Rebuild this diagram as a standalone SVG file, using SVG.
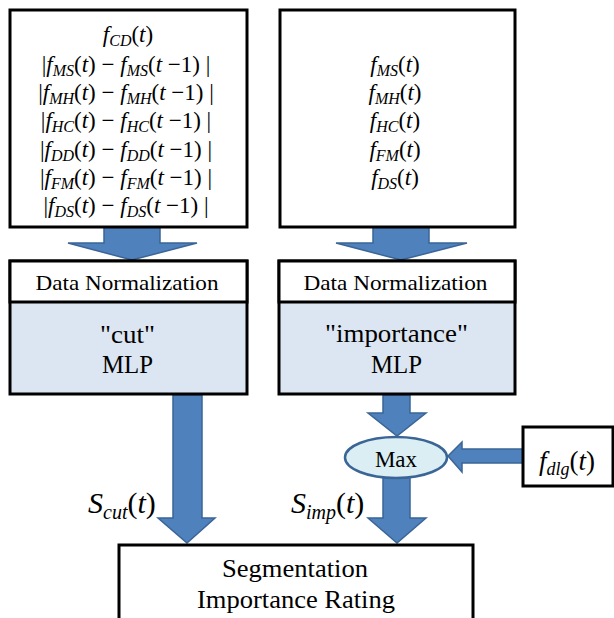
<svg xmlns="http://www.w3.org/2000/svg" width="614" height="618" viewBox="0 0 614 618">
<style>
.box{fill:#fff;stroke:#000;stroke-width:3}
.mlp{fill:#DCE6F2;stroke:#000;stroke-width:3}
.arr{fill:#4F81BD;stroke:#3A6596;stroke-width:1.5}
text{fill:#000}
</style>
<g id="connectors">
<polygon class="arr" points="104,226 160,226 160,243 197,243 132,260 68,243 104,243"/>
<polygon class="arr" points="373,226 429,226 429,243 467,243 401,260 336,243 373,243"/>
<polygon class="arr" points="173,395 202,395 202,518 215,518 187,543 158,518 173,518"/>
<polygon class="arr" points="383,395 410,395 410,413 426,413 397,436 368,413 383,413"/>
<polygon class="arr" points="383,476 410,476 410,518 426,518 397,543 368,518 383,518"/>
<polygon class="arr" points="523,449 462,449 462,442 448,456 462,472 462,463 523,463"/>
</g>
<g id="inputs-cut" font-family="Times New Roman">
<rect class="box" x="10" y="10" width="237" height="217"/>
<text font-family="Times New Roman" font-size="23" x="128" y="42" text-anchor="middle"><tspan font-style="italic">f</tspan><tspan font-size="16" font-style="italic" dy="4">CD</tspan><tspan dy="-4">(</tspan><tspan font-style="italic">t</tspan>)</text>
<text font-family="Times New Roman" font-size="23" x="126" y="72" text-anchor="middle">|<tspan font-style="italic">f</tspan><tspan font-size="16" font-style="italic" dy="4">MS</tspan><tspan dy="-4">(</tspan><tspan font-style="italic">t</tspan>) &#8722; <tspan font-style="italic">f</tspan><tspan font-size="16" font-style="italic" dy="4">MS</tspan><tspan dy="-4">(</tspan><tspan font-style="italic">t</tspan> &#8722;1) |</text>
<text font-family="Times New Roman" font-size="23" x="126" y="100" text-anchor="middle">|<tspan font-style="italic">f</tspan><tspan font-size="16" font-style="italic" dy="4">MH</tspan><tspan dy="-4">(</tspan><tspan font-style="italic">t</tspan>) &#8722; <tspan font-style="italic">f</tspan><tspan font-size="16" font-style="italic" dy="4">MH</tspan><tspan dy="-4">(</tspan><tspan font-style="italic">t</tspan> &#8722;1) |</text>
<text font-family="Times New Roman" font-size="23" x="126" y="128" text-anchor="middle">|<tspan font-style="italic">f</tspan><tspan font-size="16" font-style="italic" dy="4">HC</tspan><tspan dy="-4">(</tspan><tspan font-style="italic">t</tspan>) &#8722; <tspan font-style="italic">f</tspan><tspan font-size="16" font-style="italic" dy="4">HC</tspan><tspan dy="-4">(</tspan><tspan font-style="italic">t</tspan> &#8722;1) |</text>
<text font-family="Times New Roman" font-size="23" x="126" y="157" text-anchor="middle">|<tspan font-style="italic">f</tspan><tspan font-size="16" font-style="italic" dy="4">DD</tspan><tspan dy="-4">(</tspan><tspan font-style="italic">t</tspan>) &#8722; <tspan font-style="italic">f</tspan><tspan font-size="16" font-style="italic" dy="4">DD</tspan><tspan dy="-4">(</tspan><tspan font-style="italic">t</tspan> &#8722;1) |</text>
<text font-family="Times New Roman" font-size="23" x="126" y="185" text-anchor="middle">|<tspan font-style="italic">f</tspan><tspan font-size="16" font-style="italic" dy="4">FM</tspan><tspan dy="-4">(</tspan><tspan font-style="italic">t</tspan>) &#8722; <tspan font-style="italic">f</tspan><tspan font-size="16" font-style="italic" dy="4">FM</tspan><tspan dy="-4">(</tspan><tspan font-style="italic">t</tspan> &#8722;1) |</text>
<text font-family="Times New Roman" font-size="23" x="126" y="213" text-anchor="middle">|<tspan font-style="italic">f</tspan><tspan font-size="16" font-style="italic" dy="4">DS</tspan><tspan dy="-4">(</tspan><tspan font-style="italic">t</tspan>) &#8722; <tspan font-style="italic">f</tspan><tspan font-size="16" font-style="italic" dy="4">DS</tspan><tspan dy="-4">(</tspan><tspan font-style="italic">t</tspan> &#8722;1) |</text>
</g>
<g id="inputs-imp" font-family="Times New Roman">
<rect class="box" x="280" y="10" width="235" height="217"/>
<text font-family="Times New Roman" font-size="23" x="395" y="72" text-anchor="middle"><tspan font-style="italic">f</tspan><tspan font-size="16" font-style="italic" dy="4">MS</tspan><tspan dy="-4">(</tspan><tspan font-style="italic">t</tspan>)</text>
<text font-family="Times New Roman" font-size="23" x="395" y="100" text-anchor="middle"><tspan font-style="italic">f</tspan><tspan font-size="16" font-style="italic" dy="4">MH</tspan><tspan dy="-4">(</tspan><tspan font-style="italic">t</tspan>)</text>
<text font-family="Times New Roman" font-size="23" x="395" y="128" text-anchor="middle"><tspan font-style="italic">f</tspan><tspan font-size="16" font-style="italic" dy="4">HC</tspan><tspan dy="-4">(</tspan><tspan font-style="italic">t</tspan>)</text>
<text font-family="Times New Roman" font-size="23" x="395" y="157" text-anchor="middle"><tspan font-style="italic">f</tspan><tspan font-size="16" font-style="italic" dy="4">FM</tspan><tspan dy="-4">(</tspan><tspan font-style="italic">t</tspan>)</text>
<text font-family="Times New Roman" font-size="23" x="395" y="185" text-anchor="middle"><tspan font-style="italic">f</tspan><tspan font-size="16" font-style="italic" dy="4">DS</tspan><tspan dy="-4">(</tspan><tspan font-style="italic">t</tspan>)</text>
</g>
<g id="cut-mlp" font-family="Times New Roman">
<rect class="mlp" x="10" y="261" width="237" height="133"/>
<rect x="10" y="261" width="237" height="41" fill="#fff" stroke="#000" stroke-width="3"/>
<text font-family="Times New Roman" x="127" y="290" font-size="21" text-anchor="middle" textLength="183" lengthAdjust="spacingAndGlyphs">Data Normalization</text>
<text font-family="Times New Roman" x="127.5" y="343" font-size="25" text-anchor="middle" textLength="55" lengthAdjust="spacingAndGlyphs">&#34;cut&#34;</text>
<text font-family="Times New Roman" x="127.5" y="373" font-size="25" text-anchor="middle" textLength="51" lengthAdjust="spacingAndGlyphs">MLP</text>
</g>
<g id="imp-mlp" font-family="Times New Roman">
<rect class="mlp" x="279" y="261" width="236" height="133"/>
<rect x="279" y="261" width="236" height="41" fill="#fff" stroke="#000" stroke-width="3"/>
<text font-family="Times New Roman" x="395.5" y="290" font-size="21" text-anchor="middle" textLength="184" lengthAdjust="spacingAndGlyphs">Data Normalization</text>
<text font-family="Times New Roman" x="396.5" y="342" font-size="25" text-anchor="middle" textLength="143" lengthAdjust="spacingAndGlyphs">&#34;importance&#34;</text>
<text font-family="Times New Roman" x="396.5" y="373" font-size="25" text-anchor="middle" textLength="51" lengthAdjust="spacingAndGlyphs">MLP</text>
</g>
<g id="max" font-family="Times New Roman">
<ellipse cx="396" cy="457.5" rx="51" ry="20.5" fill="#DAEEF3" stroke="#3A6596" stroke-width="2.5"/>
<text font-family="Times New Roman" x="396" y="467" font-size="23" text-anchor="middle">Max</text>
</g>
<g id="fdlg" font-family="Times New Roman">
<rect class="box" x="523" y="427" width="90" height="59"/>
<text font-family="Times New Roman" x="567" y="470" font-size="27" text-anchor="middle"><tspan font-style="italic">f</tspan><tspan font-size="18" font-style="italic" dy="5">dlg</tspan><tspan dy="-5">(</tspan><tspan font-style="italic">t</tspan>)</text>
</g>
<g id="labels" font-family="Times New Roman">
<text font-family="Times New Roman" x="88" y="513" font-size="30"><tspan font-style="italic">S</tspan><tspan font-size="20" font-style="italic" dy="6">cut</tspan><tspan dy="-6">(</tspan><tspan font-style="italic">t</tspan>)</text>
<text font-family="Times New Roman" x="291" y="513" font-size="30"><tspan font-style="italic">S</tspan><tspan font-size="20" font-style="italic" dy="6">imp</tspan><tspan dy="-6">(</tspan><tspan font-style="italic">t</tspan>)</text>
</g>
<g id="rating" font-family="Times New Roman">
<rect class="box" x="119" y="545" width="354" height="90"/>
<text font-family="Times New Roman" x="295" y="577" font-size="25" text-anchor="middle" textLength="146" lengthAdjust="spacingAndGlyphs">Segmentation</text>
<text font-family="Times New Roman" x="296" y="608" font-size="25" text-anchor="middle" textLength="198" lengthAdjust="spacingAndGlyphs">Importance Rating</text>
</g>
</svg>
